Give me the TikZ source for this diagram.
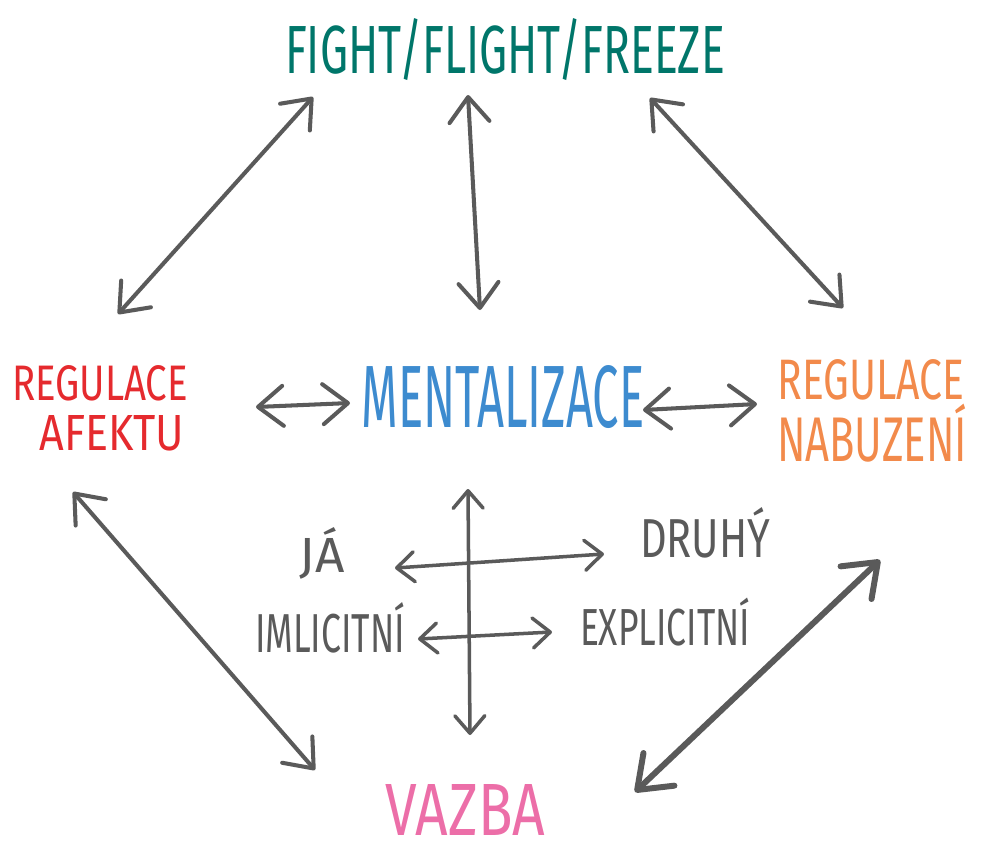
\documentclass[tikz,border=0pt]{standalone}
\usepackage{graphicx}
\usepackage{fontspec}
\setmainfont{Fira Sans}
\usetikzlibrary{arrows.meta}

\definecolor{fightgreen}{HTML}{00766A}
\definecolor{afektred}{HTML}{E52A2E}
\definecolor{mentblue}{HTML}{3D8BCF}
\definecolor{nabuorange}{HTML}{F28A4B}
\definecolor{vazbapink}{HTML}{EC6EA8}
\definecolor{inkgray}{HTML}{5A5A5A}

% stretch a word into a given box: width, total height, text
\newcommand\fitto[3]{\resizebox{#1}{#2}{#3}}

\tikzset{
  lbl/.style={inner sep=0pt, outer sep=0pt, anchor=center},
  link/.style={draw=inkgray, line width=2.3pt, line cap=round,
    >={Straight Barb[length=5mm, width=8mm, round]}, <->},
  smalllink/.style={link, line width=2pt,
    >={Straight Barb[length=3.5mm, width=6mm, round]}},
  boldlink/.style={link, line width=3.4pt,
    >={Straight Barb[length=6mm, width=9mm, round]}},
}

\begin{document}
\begin{tikzpicture}[x=0.02cm, y=-0.02cm]
  \useasboundingbox (0,0) rectangle (992,853);

  % concepts
  \node[lbl, text=fightgreen] (fff) at (505,50) {\fitto{8.8cm}{1.1cm}{FIGHT/FLIGHT/FREEZE}};
  \node[lbl, text=mentblue] (ment) at (503,397) {\fitto{5.66cm}{1.24cm}{MENTALIZACE}};
  \node[lbl, text=afektred] (ra1) at (100,383) {\fitto{3.52cm}{0.7cm}{REGULACE}};
  \node[lbl, text=afektred] (ra2) at (112,433) {\fitto{2.9cm}{0.7cm}{AFEKTU}};
  \node[lbl, text=nabuorange] (rn1) at (871,380) {\fitto{3.74cm}{0.8cm}{REGULACE}};
  \node[lbl, text=nabuorange] (rn2) at (872,433) {\fitto{3.8cm}{1.15cm}{NABUZENÍ}};
  \node[lbl, text=vazbapink] (vazba) at (465,810) {\fitto{3.2cm}{1.02cm}{VAZBA}};

  % quadrant labels
  \node[lbl, text=inkgray] (ja) at (322,553) {\fitto{0.9cm}{0.9cm}{JÁ}};
  \node[lbl, text=inkgray] (druhy) at (705,533) {\fitto{2.6cm}{1.0cm}{DRUHÝ}};
  \node[lbl, text=inkgray] (impl) at (330,628) {\fitto{3.0cm}{1.0cm}{IMLICITNÍ}};
  \node[lbl, text=inkgray] (expl) at (665,622) {\fitto{3.4cm}{0.95cm}{EXPLICITNÍ}};

  % arrow ends
  \coordinate (tlA) at (118,314);  \coordinate (tlB) at (313,97);
  \coordinate (tcA) at (468,95);   \coordinate (tcB) at (480,310);
  \coordinate (trA) at (650,98);   \coordinate (trB) at (843,308);
  \coordinate (mlA) at (256,407);  \coordinate (mlB) at (350,403);
  \coordinate (mrA) at (643,410);  \coordinate (mrB) at (757,404);
  \coordinate (blA) at (73,492);   \coordinate (blB) at (315,770);
  \coordinate (brA) at (880,560);  \coordinate (brB) at (635,792);
  \coordinate (vA) at (468,489);   \coordinate (vB) at (470,735);
  \coordinate (h1A) at (395,568);  \coordinate (h1B) at (604,554);
  \coordinate (h2A) at (418,639);  \coordinate (h2B) at (552,632);

  % connections around the centre
  \draw[link] (tlA) -- (tlB);
  \draw[link] (tcA) -- (tcB);
  \draw[link] (trA) -- (trB);
  \draw[link] (mlA) -- (mlB);
  \draw[link] (mrA) -- (mrB);
  \draw[link] (blA) -- (blB);
  \draw[boldlink] (brA) -- (brB);

  % cross of the mentalization dimensions
  \draw[smalllink] (vA) -- (vB);
  \draw[smalllink] (h1A) -- (h1B);
  \draw[smalllink] (h2A) -- (h2B);
\end{tikzpicture}
\end{document}
